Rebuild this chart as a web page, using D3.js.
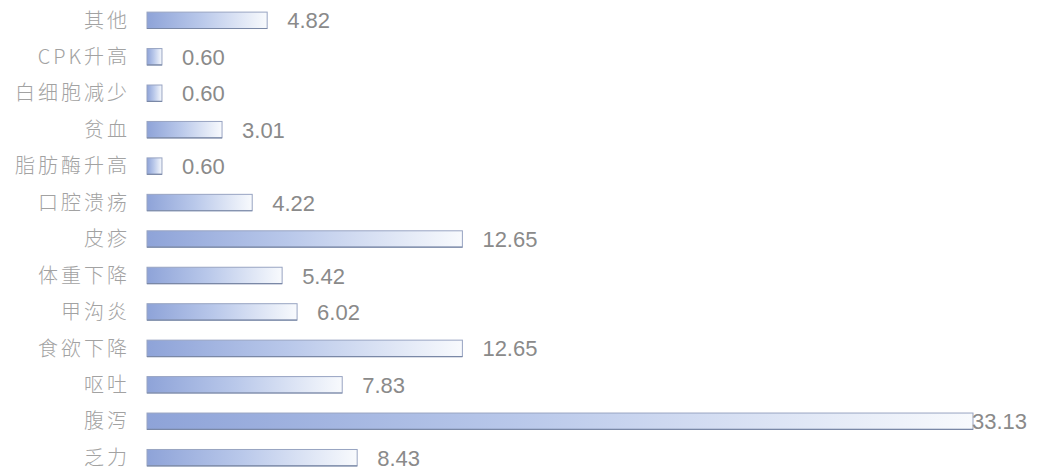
<!DOCTYPE html>
<html>
<head>
<meta charset="utf-8">
<script src="https://cdn.jsdelivr.net/npm/d3@7/dist/d3.min.js"></script>
<style>
  html, body { margin: 0; padding: 0; background: #ffffff; }
  svg { display: block; }
</style>
</head>
<body>
<svg id="chart" width="1047" height="475"></svg>
<script>
// Adverse events, top to bottom as listed
const categories = ["其他", "CPK升高", "白细胞减少", "贫血", "脂肪酶升高", "口腔溃疡", "皮疹",
  "体重下降", "甲沟炎", "食欲下降", "呕吐", "腹泻", "乏力"];
const values = [4.82, 0.60, 0.60, 3.01, 0.60, 4.22, 12.65, 5.42, 6.02, 12.65, 7.83, 33.13, 8.43];
const valueLabels = ["4.82", "0.60", "0.60", "3.01", "0.60", "4.22", "12.65", "5.42", "6.02", "12.65", "7.83", "33.13", "8.43"];

const width = 1047, height = 475;
const margin = { top: 3, right: 74, bottom: 0, left: 147 };

const svg = d3.select("#chart");

const defs = svg.append("defs");
const grad = defs.append("linearGradient")
  .attr("id", "barFill")
  .attr("x1", "0%").attr("x2", "100%").attr("y1", "0%").attr("y2", "0%");
grad.append("stop").attr("offset", "0%").attr("stop-color", "#8ea3d8");
grad.append("stop").attr("offset", "45%").attr("stop-color", "#b9c8ea");
grad.append("stop").attr("offset", "100%").attr("stop-color", "#f8fafd");

const x = d3.scaleLinear()
  .domain([0, 33.13])
  .range([margin.left, 973]);

const y = d3.scaleBand()
  .domain(categories)
  .range([margin.top, height - margin.bottom])
  .paddingInner(0.55)
  .paddingOuter(0.25);

const rows = svg.append("g").selectAll("g")
  .data(categories.map((c, i) => ({ c, v: values[i], label: valueLabels[i] })))
  .join("g");

rows.append("rect")
  .attr("x", x(0))
  .attr("y", d => y(d.c))
  .attr("width", d => x(d.v) - x(0))
  .attr("height", y.bandwidth())
  .attr("fill", "url(#barFill)")
  .attr("stroke", "#98a4c2")
  .attr("stroke-width", 1);

// darker lower edge of each bar
rows.append("line")
  .attr("x1", x(0))
  .attr("x2", d => x(d.v))
  .attr("y1", d => y(d.c) + y.bandwidth())
  .attr("y2", d => y(d.c) + y.bandwidth())
  .attr("stroke", "#7a88a6")
  .attr("stroke-width", 1.2);

rows.append("text")
  .attr("x", x(0) - 17)
  .attr("y", d => y(d.c) + y.bandwidth() / 2)
  .attr("dy", "0.36em")
  .attr("text-anchor", "end")
  .attr("font-family", "'Noto Sans CJK SC', 'Noto Sans', sans-serif")
  .attr("font-weight", 300)
  .attr("font-size", 20)
  .attr("letter-spacing", 3)
  .attr("fill", "#a2a2a2")
  .text(d => d.c);

rows.append("text")
  .attr("x", d => Math.min(x(d.v) + 20, 972))
  .attr("y", d => y(d.c) + y.bandwidth() / 2)
  .attr("dy", "0.37em")
  .attr("font-family", "'Liberation Sans', Arial, sans-serif")
  .attr("font-size", 22)
  .attr("fill", "#8a8a8a")
  .text(d => d.label);
</script>
</body>
</html>
